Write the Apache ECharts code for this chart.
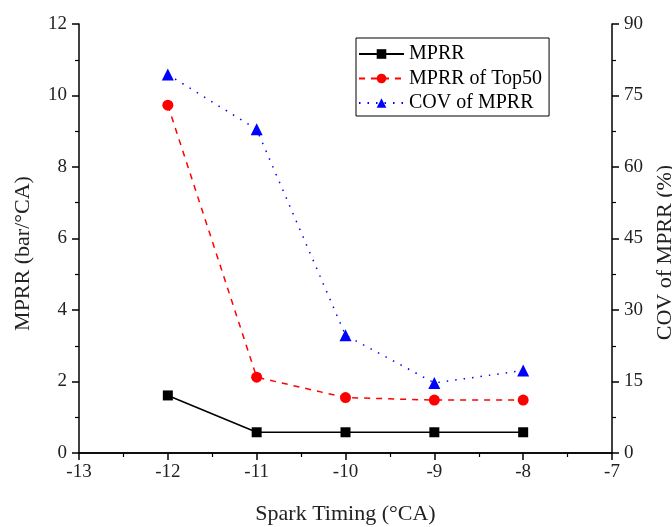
<!DOCTYPE html>
<html><head><meta charset="utf-8">
<script src="https://cdn.jsdelivr.net/npm/echarts@6/dist/echarts.min.js"></script>
<style>html,body{margin:0;padding:0;background:#fff}#c{width:672px;height:527px}</style>
</head><body><div id="c"></div>
<script>
const sparkTiming = [-12, -11, -10, -9, -8];
const mprr = [1.61, 0.58, 0.58, 0.58, 0.58];
const mprrTop50 = [9.73, 2.12, 1.55, 1.48, 1.48];
const covMprr = [79.4, 67.9, 24.7, 14.7, 17.3];
const font = '"Liberation Serif", "Times New Roman", serif';
const chart = echarts.init(document.getElementById('c'));
const pairs = a => sparkTiming.map((x, i) => [x, a[i]]);
const axisCommon = {
  axisLine: {show: true, lineStyle: {color: '#000', width: 1.5}},
  axisTick: {show: true, inside: false, length: 7, lineStyle: {color: '#000', width: 1.5}},
  minorTick: {show: true, splitNumber: 2, length: 4, lineStyle: {color: '#000', width: 1.2}},
  splitLine: {show: false},
  axisLabel: {color: '#222', fontFamily: font, fontSize: 19, margin: 12},
  nameTextStyle: {color: '#222', fontFamily: font, fontSize: 22}
};
chart.setOption({
  animation: false,
  grid: {left: 79, right: 60, top: 24, bottom: 74, containLabel: false, outerBoundsMode: 'none'},
  legend: {
    left: 356, top: 38, orient: 'vertical', itemGap: 4.5, itemWidth: 45, itemHeight: 12,
    borderColor: '#000', borderWidth: 1, padding: [6, 7, 3, 2], borderRadius: 0,
    textStyle: {fontFamily: font, fontSize: 20, color: '#000', lineHeight: 20},
    data: ['MPRR', 'MPRR of Top50', 'COV of MPRR']
  },
  xAxis: [{
    type: 'value', min: -13, max: -7, interval: 1, position: 'bottom',
    name: 'Spark Timing (\u00B0CA)', nameLocation: 'middle', nameGap: 50,
    ...axisCommon,
    axisLabel: {...axisCommon.axisLabel, margin: 10}
  }, {
    type: 'value', min: -13, max: -7, position: 'top',
    axisLine: {show: true, lineStyle: {color: '#000', width: 1.5}},
    axisTick: {show: false}, axisLabel: {show: false}, splitLine: {show: false}
  }],
  yAxis: [{
    type: 'value', min: 0, max: 12, interval: 2, position: 'left',
    name: 'MPRR (bar/\u00B0CA)', nameLocation: 'middle', nameGap: 45, nameRotate: 90,
    ...axisCommon,
    nameTextStyle: {...axisCommon.nameTextStyle, padding: [0, 30, 0, 0]}
  }, {
    type: 'value', min: 0, max: 90, interval: 15, position: 'right',
    name: 'COV of MPRR (%)', nameLocation: 'middle', nameGap: 38, nameRotate: 90,
    ...axisCommon,
    nameTextStyle: {...axisCommon.nameTextStyle, padding: [0, 28, 6, 0]}
  }],
  series: [{
    name: 'MPRR', type: 'line', data: pairs(mprr), yAxisIndex: 0,
    symbol: 'rect', symbolSize: 10, itemStyle: {color: '#000'},
    lineStyle: {color: '#000', width: 1.5, type: 'solid'}
  }, {
    name: 'MPRR of Top50', type: 'line', data: pairs(mprrTop50), yAxisIndex: 0,
    symbol: 'circle', symbolSize: 11, itemStyle: {color: '#ff0000'},
    lineStyle: {color: '#ff0000', width: 1.5, type: [6, 6]}
  }, {
    name: 'COV of MPRR', type: 'line', data: pairs(covMprr), yAxisIndex: 1,
    symbol: 'triangle', symbolSize: 12, itemStyle: {color: '#0000ff'},
    lineStyle: {color: '#0000ff', width: 1.5, type: [1.5, 7]}
  }]
});
</script></body></html>
